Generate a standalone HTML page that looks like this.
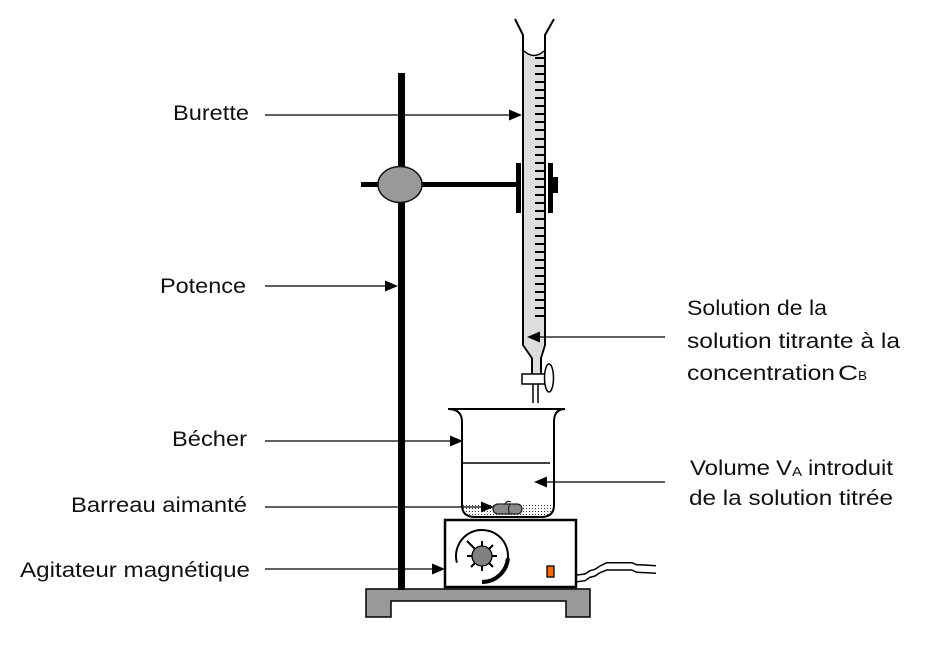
<!DOCTYPE html>
<html><head><meta charset="utf-8"><style>
html,body{margin:0;padding:0;background:#fff;}
svg{display:block;}
text{font-family:"Liberation Sans",Arial,sans-serif;fill:#111;}
</style></head><body>
<svg width="937" height="647" viewBox="0 0 937 647" xmlns="http://www.w3.org/2000/svg">
<defs>
<pattern id="dots" width="3" height="3" patternUnits="userSpaceOnUse">
<rect width="3" height="3" fill="#fff"/><rect x="1" y="1" width="1" height="1" fill="#333"/>
</pattern>
</defs>
<rect width="937" height="647" fill="#fff"/>

<!-- Base -->
<polygon points="366,589 590,589 590,617 566,617 566,601 391,601 391,617 366,617" fill="#999" stroke="#000" stroke-width="1.5"/>

<!-- Pole -->
<rect x="398" y="73" width="7" height="517" fill="#000"/>
<!-- rod -->
<rect x="361" y="182" width="156" height="5" fill="#000"/>
<ellipse cx="400" cy="184.5" rx="22" ry="18" fill="#999" stroke="#111" stroke-width="1.5"/>

<!-- Burette -->
<path d="M524 51 Q534 60 544 51 L544 345 L524 345 Z" fill="#ddd"/>
<g fill="#000">
<rect x="535" y="57" width="9" height="2"/><rect x="535" y="65" width="9" height="2"/><rect x="535" y="73" width="9" height="2"/><rect x="535" y="81" width="9" height="2"/><rect x="535" y="89" width="9" height="2"/><rect x="535" y="97" width="9" height="2"/><rect x="535" y="105" width="9" height="2"/><rect x="535" y="113" width="9" height="2"/><rect x="535" y="121" width="9" height="2"/><rect x="535" y="129" width="9" height="2"/><rect x="535" y="138" width="9" height="2"/><rect x="535" y="146" width="9" height="2"/><rect x="535" y="154" width="9" height="2"/><rect x="535" y="162" width="9" height="2"/><rect x="535" y="170" width="9" height="2"/><rect x="535" y="178" width="9" height="2"/><rect x="535" y="186" width="9" height="2"/><rect x="535" y="194" width="9" height="2"/><rect x="535" y="202" width="9" height="2"/><rect x="535" y="210" width="9" height="2"/><rect x="535" y="218" width="9" height="2"/><rect x="535" y="227" width="9" height="2"/><rect x="535" y="235" width="9" height="2"/><rect x="535" y="243" width="9" height="2"/><rect x="535" y="251" width="9" height="2"/><rect x="535" y="259" width="9" height="2"/><rect x="535" y="267" width="9" height="2"/><rect x="535" y="275" width="9" height="2"/><rect x="535" y="283" width="9" height="2"/><rect x="535" y="291" width="9" height="2"/><rect x="535" y="299" width="9" height="2"/><rect x="535" y="307" width="9" height="2"/><rect x="535" y="315" width="9" height="2"/>
</g>
<path d="M524 51 Q534 60 544 51" fill="none" stroke="#000" stroke-width="1.5"/>
<path d="M515 19 L523 35 L523 345 L532 358 L532 374" fill="none" stroke="#000" stroke-width="2"/>
<path d="M554 19 L545 35 L545 345 L541 358 L541 374" fill="none" stroke="#000" stroke-width="2"/>
<path d="M524 345 L533 358 L533 374 L540 374 L540 358 L544 345 Z" fill="#ddd"/>
<path d="M533 384 L533 403 M538 384 L538 403" stroke="#000" stroke-width="1.5"/>
<rect x="522" y="374" width="23" height="10" fill="#fff" stroke="#000" stroke-width="1.5"/>
<ellipse cx="549" cy="378" rx="4.5" ry="14" fill="#fff" stroke="#000" stroke-width="1.5"/>

<!-- Clamp -->
<rect x="516" y="163" width="5" height="50" fill="#000"/>
<rect x="548" y="163" width="5" height="50" fill="#000"/>
<rect x="553" y="177" width="5" height="16" fill="#000"/>

<!-- Beaker -->
<path d="M463 506 L463 505 L553 505 L553 506 Q553 517 541 517 L475 517 Q463 517 463 506 Z" fill="url(#dots)"/>
<path d="M448 409 Q462 409 462 422 L462 505 Q462 517 475 517 L541 517 Q554 517 554 505 L554 422 Q554 409 565 409 Z" fill="none" stroke="#000" stroke-width="2"/>
<line x1="462" y1="463" x2="550" y2="463" stroke="#000" stroke-width="1.5"/>
<!-- stir bar -->
<rect x="493" y="504" width="29" height="10" rx="5" fill="#888" stroke="#222" stroke-width="1.3"/>
<path d="M510 504 Q507 509 510 514" fill="none" stroke="#222" stroke-width="1.2"/>
<path d="M505 504 Q507 500 511 502" fill="none" stroke="#222" stroke-width="1.2"/>

<!-- Stirrer -->
<rect x="445" y="520" width="131" height="67" fill="#fff" stroke="#000" stroke-width="2.5"/>
<path d="M456.9 562.7 A26 26 0 1 1 507.9 558.3" fill="none" stroke="#000" stroke-width="2"/>
<path d="M507.9 558.3 A26 26 0 0 1 482 582" fill="none" stroke="#000" stroke-width="4"/>
<g stroke="#000" stroke-width="2">
<line x1="492" y1="556" x2="497" y2="556"/>
<line x1="489" y1="563" x2="493" y2="567"/>
<line x1="482" y1="566" x2="482" y2="571"/>
<line x1="475" y1="563" x2="471" y2="567"/>
<line x1="472" y1="556" x2="467" y2="556"/>
<line x1="475" y1="549" x2="467" y2="541"/>
<line x1="482" y1="546" x2="482" y2="541"/>
<line x1="489" y1="549" x2="493" y2="545"/>
</g>
<circle cx="482" cy="556" r="10" fill="#808080" stroke="#000" stroke-width="1.3"/>
<rect x="547" y="566" width="7" height="11" fill="#ff6a00" stroke="#000" stroke-width="1.3"/>
<path d="M577 575 L585 574 L590 570.7 L595 569.3 L600 566 L606.7 562.7 L631.7 562.7 L636.7 564.7 L645 565 L656 565.7" fill="none" stroke="#000" stroke-width="1.5"/>
<path d="M577 581.7 L585 580.7 L590 577.3 L595 576 L600 572.7 L606.7 570 L631.7 570 L636.7 572.3 L656 573.3" fill="none" stroke="#000" stroke-width="1.5"/>

<!-- Arrows -->
<g stroke="#000" stroke-width="1.2">
<line x1="265" y1="115" x2="510" y2="115"/>
<line x1="265" y1="286" x2="387" y2="286"/>
<line x1="265" y1="441" x2="452" y2="441"/>
<line x1="265" y1="507" x2="482" y2="507"/>
<line x1="265" y1="569" x2="434" y2="569"/>
<line x1="539" y1="337" x2="665" y2="337"/>
<line x1="545" y1="482" x2="665" y2="482"/>
</g>
<g fill="#000">
<polygon points="522,115 509,109.5 509,120.5"/>
<polygon points="398,286 385,280.5 385,291.5"/>
<polygon points="463,441 450,435.5 450,446.5"/>
<polygon points="494,507 481,501.5 481,512.5"/>
<polygon points="445,569 432,563.5 432,574.5"/>
<polygon points="527,337 540,331.5 540,342.5"/>
<polygon points="534,482 547,476.5 547,487.5"/>
</g>

<!-- Labels -->
<g font-size="21">
<text x="173" y="120" textLength="76" lengthAdjust="spacingAndGlyphs">Burette</text>
<text x="160" y="293" textLength="86" lengthAdjust="spacingAndGlyphs">Potence</text>
<text x="172" y="446" textLength="75" lengthAdjust="spacingAndGlyphs">Bécher</text>
<text x="71" y="512" textLength="176" lengthAdjust="spacingAndGlyphs">Barreau aimanté</text>
<text x="20" y="577" textLength="230" lengthAdjust="spacingAndGlyphs">Agitateur magnétique</text>
<text x="687" y="315" textLength="140" lengthAdjust="spacingAndGlyphs">Solution de la</text>
<text x="687" y="348" textLength="213" lengthAdjust="spacingAndGlyphs">solution titrante à la</text>
<text x="687" y="380" textLength="148" lengthAdjust="spacingAndGlyphs">concentration</text>
<text x="838" y="380" textLength="20" lengthAdjust="spacingAndGlyphs">C</text>
<text x="690" y="475" textLength="80" lengthAdjust="spacingAndGlyphs">Volume</text>
<text x="776" y="475" textLength="16" lengthAdjust="spacingAndGlyphs">V</text>
<text x="808" y="475" textLength="85" lengthAdjust="spacingAndGlyphs">introduit</text>
<text x="689" y="505" textLength="204" lengthAdjust="spacingAndGlyphs">de la solution titrée</text>
</g>
<text x="858" y="380" font-size="13" textLength="9" lengthAdjust="spacingAndGlyphs">B</text>
<text x="792" y="476" font-size="13" textLength="10" lengthAdjust="spacingAndGlyphs">A</text>
</svg>
</body></html>
